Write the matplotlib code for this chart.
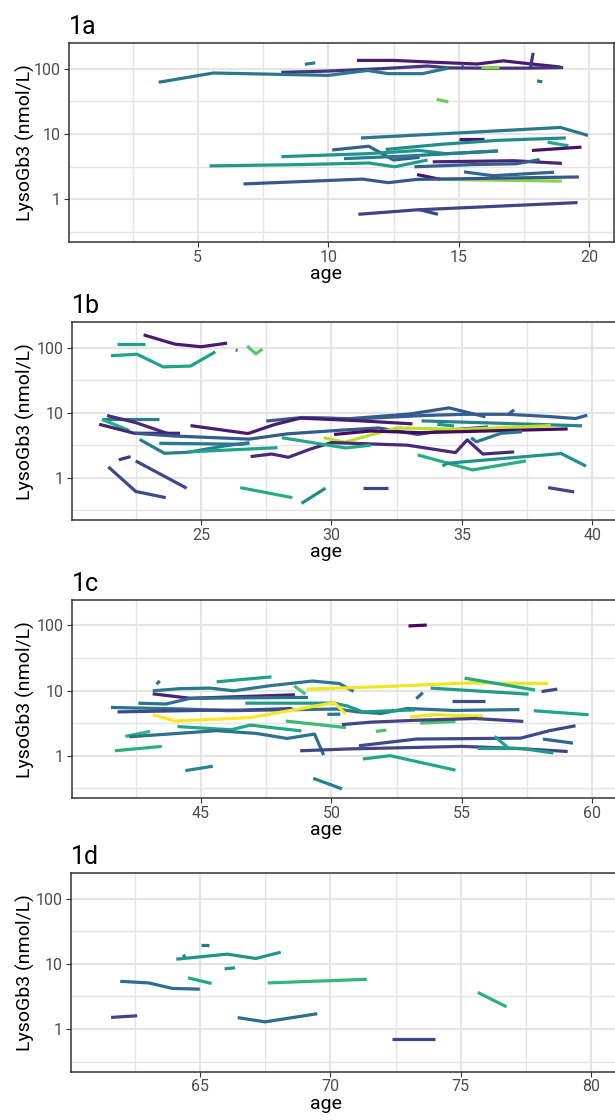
import matplotlib
matplotlib.use("Agg")
import matplotlib.pyplot as plt
from matplotlib.ticker import FixedLocator, NullFormatter

plt.rcParams["font.family"] = ["Roboto", "DejaVu Sans"]

# ------------------------------------------------------------
# data: one list per subject trajectory (age, LysoGb3), id -> colour
# ------------------------------------------------------------
a_ages = [
    [11.1, 12.5, 14.0, 15.7, 16.7, 17.8, 18.9],
    [8.2, 10.0, 12.0, 13.8, 14.6, 16.0, 17.5, 19.0],
    [17.85, 17.75],
    [3.5, 5.6, 10.0, 11.5, 12.3, 13.6, 14.6],
    [9.1, 9.5],
    [15.1, 15.2],
    [15.85, 16.55],
    [18.0, 18.2],
    [14.15, 14.6],
    [11.25, 15.0, 18.9, 19.95],
    [15.0, 15.95],
    [12.2, 14.4, 16.5, 19.1],
    [18.4, 19.2],
    [17.8, 19.7],
    [10.15, 11.55, 12.5, 13.5],
    [8.2, 11.5, 13.5, 14.5, 16.5],
    [10.6, 13.0, 16.5],
    [5.45, 8.9, 11.55, 12.55, 13.8],
    [14.0, 17.1, 18.95],
    [13.3, 15.5, 17.2, 18.1],
    [15.2, 16.3, 18.65],
    [13.4, 14.3],
    [14.3, 18.95],
    [6.75, 11.3, 12.3, 13.4, 19.6],
    [11.15, 13.4, 19.55],
    [13.45, 14.2],
]
a_vals = [
    [134, 134, 126, 118, 132, 118, 106],
    [88, 92, 100, 110, 103, 102, 102, 104],
    [175, 106],
    [62, 86, 79, 94, 84, 84, 102],
    [117, 123],
    [113, 112],
    [105, 105],
    [65, 63],
    [34, 31],
    [8.7, 10.4, 12.6, 9.5],
    [8.5, 8.5],
    [5.8, 7.0, 8.0, 8.7],
    [7.5, 6.6],
    [5.6, 6.3],
    [5.7, 6.5, 4.0, 4.4],
    [4.5, 5.0, 5.6, 5.0, 5.5],
    [4.2, 4.6, 5.5],
    [3.25, 3.4, 3.6, 3.15, 4.0],
    [3.75, 3.9, 3.55],
    [3.15, 3.4, 3.5, 4.05],
    [2.63, 2.3, 2.6],
    [2.39, 2.02],
    [2.02, 1.9],
    [1.72, 2.04, 1.8, 2.02, 2.2],
    [0.59, 0.69, 0.89],
    [0.70, 0.59],
]
a_ids = [0.08, 0.15, 0.15, 0.40, 0.40, 0.40, 0.82, 0.40, 0.78, 0.40, 0.05, 0.48, 0.60,
         0.05, 0.30, 0.52, 0.42, 0.55, 0.10, 0.30, 0.33, 0.05, 0.82, 0.27, 0.20, 0.20]

b_ages = [
    [21.8, 22.85],
    [22.8, 24.0, 25.0, 26.0],
    [21.55, 22.55, 23.55, 24.6, 25.55],
    [26.33, 26.4],
    [26.77, 27.1, 27.35],
    [21.2, 23.4],
    [21.2, 22.25],
    [21.4, 22.5, 23.9],
    [21.1, 22.45, 24.2],
    [22.45, 24.0, 26.85, 28.3, 30.5, 31.8, 33.3, 34.3, 36.0],
    [22.65, 23.6, 24.5, 25.9, 26.85],
    [23.4, 26.55, 26.85],
    [24.5, 27.93],
    [21.85, 22.3],
    [21.45, 22.5, 23.65],
    [22.5, 24.45],
    [26.5, 28.5],
    [28.85, 29.77],
    [27.5, 28.9, 30.6, 33.0, 34.5, 35.9],
    [29.0, 31.0, 33.5, 35.1, 36.75, 38.3, 39.35, 39.8],
    [36.8, 37.0],
    [33.45, 39.6],
    [34.05, 34.7],
    [24.6, 26.8, 27.8, 28.8, 31.0, 33.1],
    [29.7, 30.5, 32.5, 35.0, 38.4],
    [30.1, 31.5, 33.4, 39.05],
    [26.9, 27.7, 28.35, 29.2, 30.0, 32.9, 34.75, 35.2, 35.8, 37.0],
    [35.35, 35.55, 36.5, 37.3],
    [33.3, 35.4, 37.45],
    [34.25, 34.45, 38.8, 39.75],
    [31.2, 32.15],
    [38.3, 39.3],
    [28.1, 30.55, 31.5],
]
b_vals = [
    [115, 115],
    [157, 113, 103, 117],
    [75, 79, 50.5, 52, 86],
    [92, 90],
    [106, 80, 95],
    [7.9, 7.9],
    [7.85, 5.3],
    [9.0, 7.0, 4.5],
    [6.6, 4.8, 4.8],
    [4.8, 4.35, 3.9, 4.7, 5.4, 5.8, 4.6, 5.3, 6.0],
    [3.86, 2.36, 2.45, 3.06, 3.44],
    [3.37, 3.25, 3.37],
    [2.48, 2.88],
    [1.87, 2.1],
    [1.46, 0.61, 0.49],
    [1.8, 0.685],
    [0.70, 0.49],
    [0.40, 0.685],
    [7.4, 8.4, 8.0, 9.5, 11.8, 8.6],
    [8.3, 8.0, 9.0, 9.4, 9.4, 8.7, 8.1, 9.1],
    [9.6, 11.0],
    [7.45, 6.25],
    [6.6, 6.2],
    [6.3, 4.75, 6.5, 8.2, 7.5, 6.7],
    [4.1, 3.5, 5.8, 5.5, 6.3],
    [4.6, 5.2, 4.9, 5.6],
    [2.1, 2.3, 2.05, 2.75, 3.45, 3.15, 2.42, 3.8, 2.3, 2.48],
    [4.1, 3.55, 4.8, 5.05],
    [2.23, 1.31, 1.8],
    [1.5, 1.66, 2.34, 1.5],
    [0.686, 0.686],
    [0.70, 0.60],
    [4.1, 2.85, 3.15],
]
b_ids = [0.57, 0.08, 0.58, 0.45, 0.74, 0.42, 0.62, 0.12, 0.10, 0.28, 0.42, 0.40, 0.58,
         0.15, 0.22, 0.22, 0.62, 0.48, 0.27, 0.30, 0.30, 0.45, 0.55, 0.08, 0.90, 0.03,
         0.12, 0.40, 0.63, 0.50, 0.20, 0.20, 0.60]

c_ages = [
    [43.3, 43.42],
    [45.6, 47.7],
    [43.15, 44.2, 45.35, 46.25, 47.6, 49.27, 50.3, 50.85],
    [43.15, 44.6, 48.6],
    [42.6, 43.65, 44.6, 49.1],
    [41.55, 44.4, 46.0, 50.2, 51.0, 51.9, 52.9, 54.7, 57.2],
    [41.8, 45.5, 46.5, 48.5],
    [46.7, 50.1, 50.6, 51.2, 53.2],
    [43.15, 44.0, 46.9, 50.1, 50.55],
    [49.05, 52.0, 55.3, 58.3],
    [48.57, 49.0],
    [49.84, 50.34],
    [48.25, 50.55],
    [44.1, 46.15, 46.9, 47.7, 48.85],
    [42.1, 43.05],
    [42.25, 45.6, 47.1, 48.3, 49.35, 49.7],
    [41.7, 43.5],
    [48.8, 50.66, 55.0, 57.15, 59.05],
    [44.4, 45.45],
    [49.3, 50.4],
    [52.95, 53.65],
    [53.25, 53.5],
    [55.1, 57.8],
    [53.8, 57.55],
    [58.05, 58.65],
    [54.6, 55.9],
    [57.75, 59.85],
    [53.0, 53.95, 55.8],
    [53.4, 54.75],
    [50.4, 51.5, 53.25, 55.5, 57.35],
    [51.7, 52.1],
    [51.05, 53.25, 57.25, 58.35, 59.35],
    [58.1, 59.25],
    [55.6, 57.3, 58.5],
    [56.25, 56.8],
    [51.2, 52.25, 54.75],
]
c_vals = [
    [12.5, 14.1],
    [13.6, 16.2],
    [9.9, 10.7, 10.9, 9.9, 11.8, 14.0, 12.8, 9.7],
    [8.9, 7.6, 8.6],
    [6.4, 6.2, 7.6, 7.85],
    [5.5, 5.2, 4.9, 5.2, 4.7, 4.45, 5.3, 4.95, 5.1],
    [4.7, 5.0, 5.0, 5.3],
    [6.4, 6.4, 5.8, 4.7, 5.05],
    [4.25, 3.4, 3.85, 6.5, 4.35],
    [10.5, 11.5, 13.1, 12.8],
    [11.8, 8.8],
    [4.3, 4.35],
    [3.4, 2.7],
    [2.8, 2.5, 2.95, 2.7, 2.4],
    [1.98, 2.36],
    [1.95, 2.42, 2.2, 1.84, 2.15, 1.02],
    [1.19, 1.39],
    [1.19, 1.27, 1.39, 1.29, 1.16],
    [0.59, 0.69],
    [0.45, 0.31],
    [98, 101],
    [7.5, 9.3],
    [15.5, 10.2],
    [10.9, 8.8],
    [9.65, 10.5],
    [6.9, 6.9],
    [4.9, 4.25],
    [3.95, 4.25, 4.05],
    [3.16, 3.35],
    [3.0, 3.27, 3.5, 3.72, 3.36],
    [2.36, 2.47],
    [1.42, 1.8, 1.86, 2.42, 2.88],
    [1.8, 1.56],
    [1.29, 1.29, 1.1],
    [1.98, 1.29],
    [0.89, 1.0, 0.6],
]
c_ids = [0.38, 0.57, 0.40, 0.10, 0.37, 0.38, 0.22, 0.55, 1.00, 0.98, 0.72, 0.40, 0.68,
         0.60, 0.66, 0.37, 0.64, 0.20, 0.46, 0.43, 0.02, 0.36, 0.60, 0.55, 0.22, 0.24,
         0.58, 0.98, 0.72, 0.20, 0.72, 0.22, 0.33, 0.55, 0.58, 0.60]

d_ages = [
    [65.05, 65.35],
    [64.35, 64.45],
    [64.1, 66.05, 67.15, 68.1],
    [65.95, 66.35],
    [64.55, 65.45],
    [67.6, 71.4],
    [61.95, 63.05, 63.95, 65.0],
    [75.65, 76.75],
    [61.6, 62.6],
    [66.45, 67.5, 69.5],
    [72.35, 74.0],
]
d_vals = [
    [19.5, 19.5],
    [12.8, 13.6],
    [11.8, 14.1, 12.1, 15.1],
    [8.4, 8.7],
    [6.1, 5.0],
    [5.1, 5.8],
    [5.4, 5.1, 4.2, 4.1],
    [3.65, 2.2],
    [1.51, 1.6],
    [1.5, 1.29, 1.72],
    [0.695, 0.695],
]
d_ids = [0.38, 0.38, 0.52, 0.53, 0.60, 0.66, 0.35, 0.64, 0.20, 0.35, 0.20]

titles = ["1a", "1b", "1c", "1d"]
age_ranges = [(1, 20), (21, 40), (41, 60), (61, 80)]
x_breaks = [[5, 10, 15, 20], [25, 30, 35, 40], [45, 50, 55, 60], [65, 70, 75, 80]]
y_breaks = [1, 10, 100]
y_labels = ["1", "10", "100"]

# ------------------------------------------------------------
# layout (pixels, from top of a 615 x 1120 canvas)
# ------------------------------------------------------------
W, H = 615.0, 1120.0
boxes = [(68.6, 43.3, 242.0), (71.8, 322.3, 520.0), (71.8, 600.0, 798.3), (70.6, 873.3, 1071.7)]
px_per_year = 26.1

fig = plt.figure(figsize=(6.15, 11.2), dpi=100)
cmap = plt.cm.viridis

panels = zip(titles, [a_ages, b_ages, c_ages, d_ages], [a_vals, b_vals, c_vals, d_vals],
             [a_ids, b_ids, c_ids, d_ids], age_ranges, x_breaks, boxes)

for title, ages, vals, ids, (lo, hi), xb, (left, top, bottom) in panels:
    xlim = (lo - 0.05 * (hi - lo), hi + 0.05 * (hi - lo))
    width = (xlim[1] - xlim[0]) * px_per_year
    ax = fig.add_axes([left / W, 1 - bottom / H, width / W, (bottom - top) / H])

    for xs, ys, k in zip(ages, vals, ids):
        ax.plot(xs, ys, color=cmap(k), lw=2.3, solid_capstyle="butt",
                solid_joinstyle="round", zorder=3)

    ax.set_yscale("log")
    ax.set_ylim(0.222, 245)
    ax.set_xlim(*xlim)

    ax.yaxis.set_major_locator(FixedLocator(y_breaks))
    ax.set_yticklabels(y_labels)
    ax.yaxis.set_minor_locator(FixedLocator([0.316, 3.16, 31.6]))
    ax.yaxis.set_minor_formatter(NullFormatter())
    ax.xaxis.set_major_locator(FixedLocator(xb))
    ax.set_xticklabels([str(v) for v in xb])
    ax.xaxis.set_minor_locator(FixedLocator([v - 2.5 for v in xb]))

    # theme_bw-like grid
    ax.grid(which="major", color="#E5E5E5", lw=1.5, zorder=0)
    ax.grid(which="minor", color="#E5E5E5", lw=1.0, zorder=0)
    ax.set_axisbelow(True)

    for sp in ax.spines.values():
        sp.set_color("#333333")
        sp.set_linewidth(1.1)

    ax.tick_params(which="major", length=3.5, width=0.8, color="#333333",
                   labelcolor="#4D4D4D", labelsize=11.5, pad=2)
    ax.tick_params(which="minor", length=0)

    fig.text(left / W, 1 - (top - 9) / H, title, fontsize=18, ha="left", va="baseline")
    fig.text(25 / W, 1 - (top + bottom) / 2 / H, "LysoGb3 (nmol/L)", fontsize=14,
             rotation=90, ha="center", va="center")
    fig.text(326 / W, 1 - (bottom + 37) / H, "age", fontsize=14, ha="center", va="baseline")

fig.savefig("out.png", dpi=100)
